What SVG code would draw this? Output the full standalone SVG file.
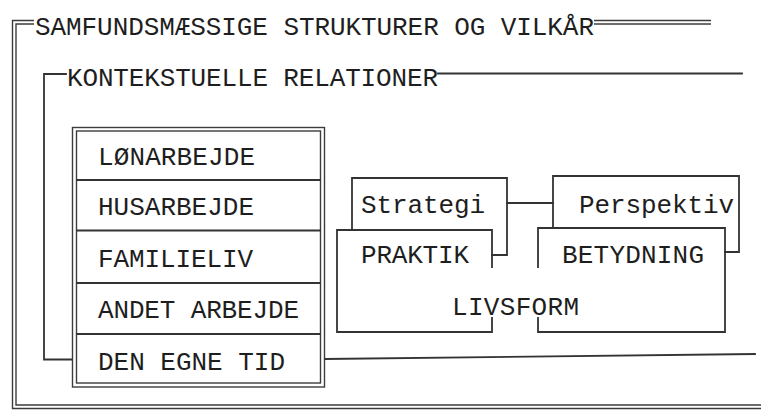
<svg xmlns="http://www.w3.org/2000/svg" width="761" height="410" viewBox="0 0 761 410">
<style>
  text { font-family: "Liberation Mono", "DejaVu Sans Mono", monospace; font-size: 26px; fill: #1e1e1e; }
  .ln { fill: none; stroke: #333; stroke-width: 1.8; stroke-linejoin: miter; stroke-linecap: square; }
  .dbl { fill: none; stroke: #3c3c3c; stroke-width: 1.4; }
</style>
<rect width="761" height="410" fill="#fff"/>

<g id="samfund-frame">
  <path class="dbl" d="M34,20.5 H12.5 V408.5 H761"/>
  <path class="dbl" d="M34,24 H16 V405 H761"/>
  <path class="dbl" d="M594,20.5 H711"/>
  <path class="dbl" d="M594,24 H711"/>
  <text x="35" y="35" textLength="559" lengthAdjust="spacing">SAMFUNDSMÆSSIGE STRUKTURER OG VILKÅR</text>
</g>

<g id="kontekst-frame">
  <path class="ln" d="M66,74 H44 V359.5 H72"/>
  <path class="ln" d="M438,73.5 H742"/>
  <text x="67" y="86" textLength="371" lengthAdjust="spacing">KONTEKSTUELLE RELATIONER</text>
</g>

<g id="liste">
  <rect class="dbl" x="72.5" y="127.5" width="252" height="259.5"/>
  <rect class="dbl" x="76.5" y="131" width="244" height="252"/>
  <path class="ln" d="M77,180 H320 M77,230.5 H320 M77,283 H320 M77,334 H320"/>
  <g id="loenarbejde"><text x="98" y="165" textLength="157" lengthAdjust="spacing">LØNARBEJDE</text></g>
  <g id="husarbejde"><text x="98" y="215" textLength="156" lengthAdjust="spacing">HUSARBEJDE</text></g>
  <g id="familieliv"><text x="98" y="267" textLength="155" lengthAdjust="spacing">FAMILIELIV</text></g>
  <g id="andet-arbejde"><text x="98" y="318" textLength="201" lengthAdjust="spacing">ANDET ARBEJDE</text></g>
  <g id="den-egne-tid"><text x="98" y="370" textLength="187" lengthAdjust="spacing">DEN EGNE TID</text></g>
</g>

<g id="strategi">
  <path class="ln" d="M352,230 V178 H507 V255 H492"/>
  <text x="361" y="213" textLength="124" lengthAdjust="spacing">Strategi</text>
</g>

<g id="praktik">
  <path class="ln" d="M492,267 V230 H337 V332 H492 V318"/>
  <text x="361" y="263" textLength="108" lengthAdjust="spacing">PRAKTIK</text>
</g>

<g id="perspektiv">
  <path class="ln" d="M553,228 V176 H739 V252 H725"/>
  <text x="579" y="213" textLength="155" lengthAdjust="spacing">Perspektiv</text>
</g>

<g id="betydning">
  <path class="ln" d="M538,267 V228 H725 V332 H538 V318"/>
  <text x="562" y="263" textLength="142" lengthAdjust="spacing">BETYDNING</text>
</g>

<g id="livsform">
  <text x="452" y="315" textLength="127" lengthAdjust="spacing">LIVSFORM</text>
</g>

<g id="connectors">
  <path class="ln" d="M507,203 H553"/>
  <path class="ln" d="M325,359 L755,354"/>
</g>
</svg>
